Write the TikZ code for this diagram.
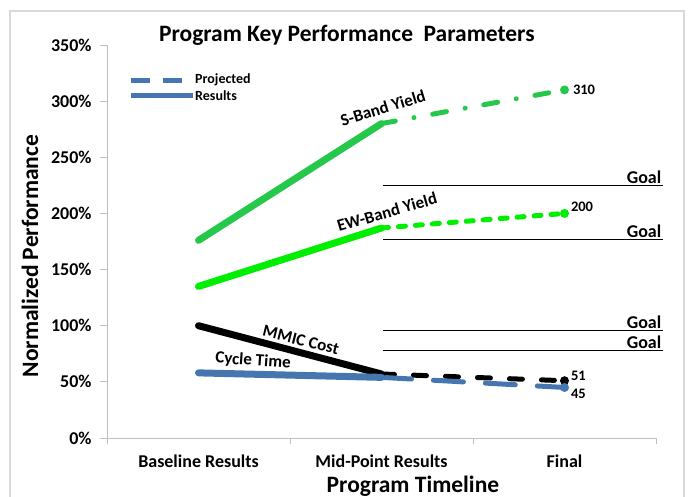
\documentclass[tikz,border=0pt]{standalone}
\usepackage{fontspec}
\setmainfont{Carlito}
\definecolor{sband}{RGB}{38,200,76}
\definecolor{ewband}{RGB}{0,238,0}
\definecolor{cyclet}{RGB}{70,118,176}
\definecolor{axisgray}{RGB}{191,191,191}
\definecolor{framegray}{RGB}{217,217,217}
\newcommand{\fs}[1]{\bfseries\fontsize{#1}{#1}\selectfont}

\begin{document}
\begin{tikzpicture}[x=183pt, y=1.1229pt, line cap=round,
  result/.style={line width=7pt},
  projected/.style={line width=5pt},
  endpt/.style={circle, fill, inner sep=0pt, minimum size=9pt},
  goal/.style={line width=1.4pt, black, line cap=butt}]
  \useasboundingbox (-107pt,-58pt) rectangle (582pt,438pt);
  \draw[framegray, line width=2pt, line cap=butt] (-97pt,-60pt) -- (-97pt,427pt) -- (577pt,427pt) -- (577pt,-60pt);

  % axes
  \draw[axisgray, line width=0.8pt, line cap=butt] (0,350) -- (0,0) -- (3,0);
  \foreach \v in {0,50,...,350}
    \draw[axisgray, line width=0.8pt, line cap=butt] (0,\v) -- ++(-7pt,0)
      node (tick\v) [anchor=east, xshift=-8pt, inner sep=0pt, black, font=\fs{18}] {\v\%};
  \foreach \i in {0,...,3}
    \draw[axisgray, line width=0.8pt, line cap=butt] (\i,0) -- ++(0,-6pt);
  \foreach \i/\lbl in {0/Baseline Results, 1/Mid-Point Results, 2/Final}
    \node (cat\i) at ([yshift=-23pt]\i+0.5,0) [font=\fs{18}] {\lbl};
  \node (xlabel) at ([yshift=-48pt]1.672,0) [font=\fs{23.5}] {Program Timeline};
  \node (ylabel) at ([xshift=-77pt]0,162) [rotate=90, font=\fs{23.5}] {Normalized Performance};
  \node (title) at (1.311,359) [font=\fs{23.5}] {Program Key Performance\ \ Parameters};

  % legend
  \draw[cyclet, line width=5pt, line cap=butt, dash pattern=on 19pt off 13pt] ([xshift=24pt]0,318.8) -- ([xshift=75pt]0,318.8);
  \draw[cyclet, line width=5pt, line cap=butt] ([xshift=24pt]0,304.6) -- ([xshift=86pt]0,304.6);
  \node (legproj) at ([xshift=88pt]0,318.8) [anchor=west, inner sep=0pt, font=\fs{14}] {Projected};
  \node (legres) at ([xshift=88pt]0,304.6) [anchor=west, inner sep=0pt, font=\fs{14}] {Results};

  % goals
  \foreach \g in {225,177,96,78}
    \draw[goal] (1.508,\g) -- (3.038,\g) node (goal\g) [anchor=south east, inner sep=1pt, font=\fs{18}] {Goal};

  % series
  \coordinate (sb0) at (0.5,176); \coordinate (sb1) at (1.5,280); \coordinate (sb2) at (2.5,310);
  \coordinate (ew0) at (0.5,135); \coordinate (ew1) at (1.5,187); \coordinate (ew2) at (2.5,200);
  \coordinate (mc0) at (0.5,100); \coordinate (mc1) at (1.5,57);  \coordinate (mc2) at (2.5,51);
  \coordinate (ct0) at (0.5,58);  \coordinate (ct1) at (1.5,54);  \coordinate (ct2) at (2.5,45);

  \draw[projected, sband, dash pattern=on 14pt off 19pt on 0.01pt off 19pt] (sb1) -- (sb2);
  \draw[projected, ewband, dash pattern=on 7pt off 10pt] (ew1) -- (ew2);
  \draw[projected, black, dash pattern=on 13pt off 19pt] (mc1) -- (mc2);
  \draw[projected, cyclet, dash pattern=on 30pt off 22pt] (ct1) -- (ct2);
  \draw[result, sband] (sb0) -- (sb1);
  \draw[result, ewband] (ew0) -- (ew1);
  \draw[result, black] (mc0) -- (mc1);
  \draw[result, cyclet] (ct0) -- (ct1);
  \node (sbend) at (sb2) [endpt, sband] {};
  \node (ewend) at (ew2) [endpt, ewband] {};
  \node (mcend) at (mc2) [endpt, black] {};
  \node (ctend) at (ct2) [endpt, cyclet] {};

  % data labels
  \node (v310) at (sb2) [anchor=west, xshift=5pt, font=\fs{14.5}] {310};
  \node (v200) at (ew2) [anchor=west, xshift=3pt, yshift=7pt, font=\fs{14.5}] {200};
  \node (v51) at (mc2) [anchor=west, xshift=3pt, yshift=5pt, font=\fs{14.5}] {51};
  \node (v45) at (ct2) [anchor=west, xshift=3pt, yshift=-6pt, font=\fs{14.5}] {45};

  % series names
  \node (sblbl) at (1.508,293.9) [rotate=17, font=\fs{17}] {S-Band Yield};
  \node (ewlbl) at (1.530,201.3) [rotate=16, font=\fs{17}] {EW-Band Yield};
  \node (mclbl) at (1.060,87.3) [rotate=-14, font=\fs{17}] {MMIC Cost};
  \node (ctlbl) at (0.798,68.6) [rotate=-4, font=\fs{17}] {Cycle Time};
\end{tikzpicture}
\end{document}
